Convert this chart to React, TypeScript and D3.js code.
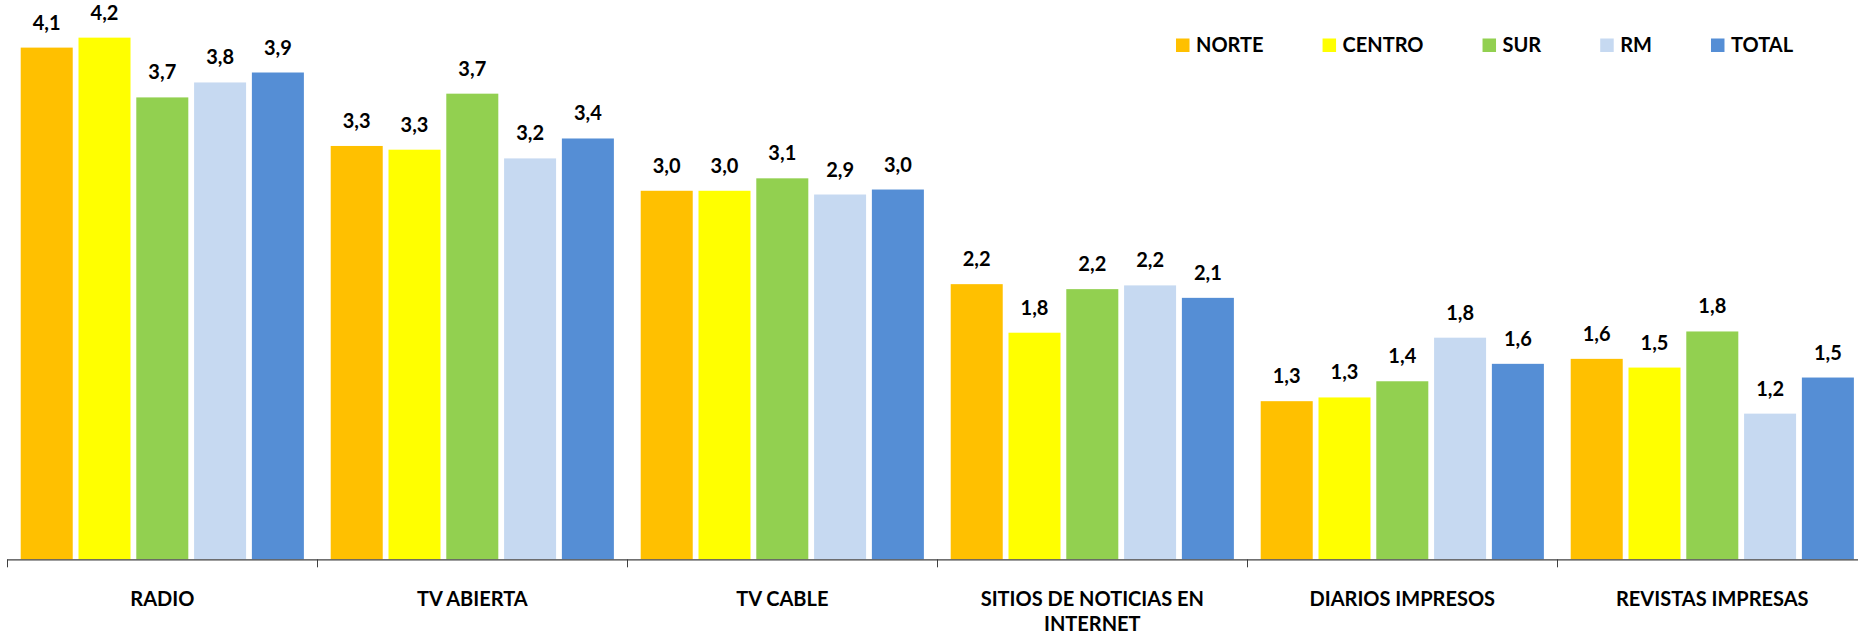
import { useEffect, useRef } from 'react';
import * as d3 from 'd3';

const categories = [
  'RADIO',
  'TV ABIERTA',
  'TV CABLE',
  'SITIOS DE NOTICIAS EN INTERNET',
  'DIARIOS IMPRESOS',
  'REVISTAS IMPRESAS',
];

const seriesNames = ['NORTE', 'CENTRO', 'SUR', 'RM', 'TOTAL'];
const seriesColors = ['#FFC000', '#FFFF00', '#92D050', '#C6D9F1', '#558ED5'];

const norte = [4.11, 3.32, 2.96, 2.21, 1.27, 1.61];
const centro = [4.19, 3.29, 2.96, 1.82, 1.3, 1.54];
const sur = [3.71, 3.74, 3.06, 2.17, 1.43, 1.83];
const rm = [3.83, 3.22, 2.93, 2.2, 1.78, 1.17];
const total = [3.91, 3.38, 2.97, 2.1, 1.57, 1.46];

const seriesValues = [norte, centro, sur, rm, total];

const FONT = 'Lato, "Open Sans", sans-serif';

export default function App() {
  const svgRef = useRef<SVGSVGElement>(null);
  const width = 1858;
  const height = 636;

  useEffect(() => {
    if (!svgRef.current) return;
    const svg = d3.select(svgRef.current);
    svg.selectAll('*').remove();

    const left = 7.3;
    const bandW = 310;
    const baseY = 559.3;

    const x0 = d3.scaleBand<string>()
      .domain(categories)
      .range([left, left + bandW * categories.length])
      .padding(0);

    const x1 = d3.scaleBand<string>()
      .domain(seriesNames)
      .range([0, x0.bandwidth()])
      .paddingInner(0.1)
      .paddingOuter(0.232);

    const y = d3.scaleLinear()
      .domain([0, 4.4])
      .range([baseY, baseY - 4.4 * 124.5]);

    const fmt = (v: number) => d3.format('.1f')(v).replace('.', ',');

    const rows = categories.map((c, i) => ({
      cat: c,
      vals: seriesNames.map((s, j) => ({ s, v: seriesValues[j][i], color: seriesColors[j] })),
    }));

    const groups = svg.append('g')
      .selectAll('g')
      .data(rows)
      .join('g')
      .attr('transform', d => `translate(${x0(d.cat)},0)`);

    groups.selectAll('rect')
      .data(d => d.vals)
      .join('rect')
      .attr('x', d => x1(d.s)!)
      .attr('y', d => y(d.v))
      .attr('width', x1.bandwidth())
      .attr('height', d => baseY - y(d.v))
      .attr('fill', d => d.color);

    groups.selectAll('text.val')
      .data(d => d.vals)
      .join('text')
      .attr('class', 'val')
      .attr('x', d => x1(d.s)! + x1.bandwidth() / 2)
      .attr('y', d => y(d.v) - 18)
      .attr('text-anchor', 'middle')
      .attr('font-family', FONT)
      .attr('font-weight', 700)
      .attr('font-size', 20)
      .attr('fill', '#000')
      .text(d => fmt(d.v));

    // category axis
    const axis = svg.append('g');
    axis.append('line')
      .attr('x1', left)
      .attr('x2', width)
      .attr('y1', baseY + 0.5)
      .attr('y2', baseY + 0.5)
      .attr('stroke', '#404040')
      .attr('stroke-width', 1.2);

    axis.selectAll('line.tick')
      .data(categories)
      .join('line')
      .attr('class', 'tick')
      .attr('x1', d => Math.round(x0(d)!) + 0.5)
      .attr('x2', d => Math.round(x0(d)!) + 0.5)
      .attr('y1', baseY)
      .attr('y2', baseY + 8)
      .attr('stroke', '#404040')
      .attr('stroke-width', 1);

    const labels = axis.selectAll('text.cat')
      .data(categories)
      .join('text')
      .attr('class', 'cat')
      .attr('text-anchor', 'middle')
      .attr('font-family', FONT)
      .attr('font-weight', 700)
      .attr('font-size', 20)
      .attr('fill', '#000')
      .attr('x', d => x0(d)! + x0.bandwidth() / 2)
      .attr('y', 606);

    // wrap long labels to the band width
    labels.each(function (d) {
      const t = d3.select(this);
      const words = d.split(' ');
      let line: string[] = [];
      let tspan = t.append('tspan').attr('x', t.attr('x')).attr('dy', 0);
      words.forEach(w => {
        line.push(w);
        tspan.text(line.join(' '));
        if ((tspan.node() as SVGTSpanElement).getComputedTextLength() > 290 && line.length > 1) {
          line.pop();
          tspan.text(line.join(' '));
          line = [w];
          tspan = t.append('tspan').attr('x', t.attr('x')).attr('dy', 25).text(w);
        }
      });
    });

    // legend
    const legend = svg.append('g');
    let lx = 1176;
    seriesNames.forEach((s, i) => {
      legend.append('rect')
        .attr('x', lx)
        .attr('y', 38.5)
        .attr('width', 13.5)
        .attr('height', 13.5)
        .attr('fill', seriesColors[i]);
      const t = legend.append('text')
        .attr('x', lx + 20)
        .attr('y', 52)
        .attr('font-family', FONT)
        .attr('font-weight', 700)
        .attr('font-size', 20)
        .attr('fill', '#000')
        .text(s);
      const w = (t.node() as SVGTextElement).getComputedTextLength();
      lx += 20 + w + 59;
    });
  }, []);

  return (
    <svg
      ref={svgRef}
      width={width}
      height={height}
      style={{ position: 'absolute', left: 0, top: 0, background: '#fff' }}
    />
  );
}
